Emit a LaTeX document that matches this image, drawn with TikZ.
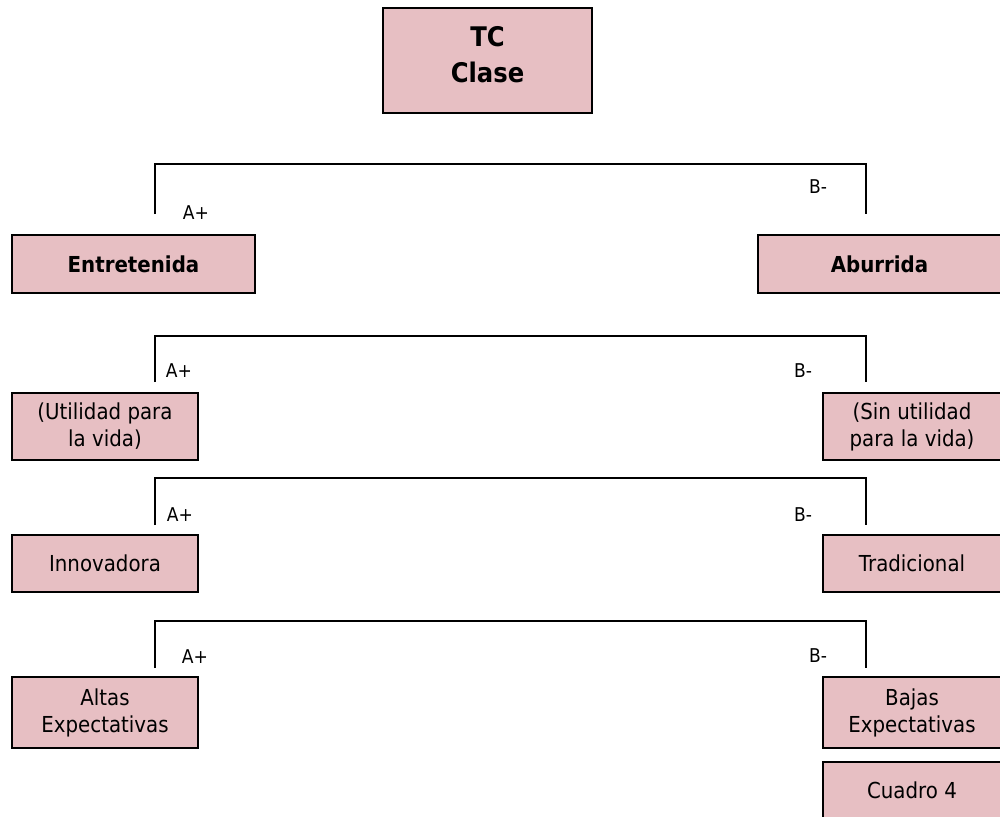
\documentclass[tikz,border=0pt]{standalone}
\usepackage{fontspec}
\setmainfont[FakeStretch=0.9]{DejaVu Sans}
\definecolor{pinkbox}{HTML}{E7BFC3}
\begin{document}
\begin{tikzpicture}[x=1pt,y=-1pt,
  box/.style={draw=black, line width=1.6pt, fill=pinkbox, inner sep=0pt, align=center,
              font=\fontsize{22}{27}\selectfont},
  conn/.style={line width=1.3pt, draw=black},
  lbl/.style={font=\fontsize{19}{22}\selectfont, inner sep=0pt}]
\useasboundingbox (0,0) rectangle (1000,816);
\clip (0,0) rectangle (1000,816);

% boxes
\node[box, minimum width=209pt, minimum height=105pt] (tc) at (487.5,60.5) {};
\node[align=center, inner sep=0pt, font=\bfseries\fontsize{27}{36}\selectfont]
  (tct) at (487.5,55) {TC\\Clase};
\node[box, minimum width=243pt, minimum height=58pt, font=\bfseries\fontsize{22}{27}\selectfont]
  (ent) at (133.5,264) {Entretenida};
\node[box, minimum width=243pt, minimum height=58pt, font=\bfseries\fontsize{22}{27}\selectfont]
  (abu) at (879.5,264) {Aburrida};
\node[box, minimum width=186pt, minimum height=67pt] (uti) at (105,426.5) {(Utilidad para\\la vida)};
\node[box, minimum width=178pt, minimum height=67pt] (sin) at (912,426.5) {(Sin utilidad\\para la vida)};
\node[box, minimum width=186pt, minimum height=57pt] (inn) at (105,563.5) {Innovadora};
\node[box, minimum width=178pt, minimum height=57pt] (tra) at (912,563.5) {Tradicional};
\node[box, minimum width=186pt, minimum height=71pt] (alt) at (105,712.5) {Altas\\Expectativas};
\node[box, minimum width=178pt, minimum height=71pt] (baj) at (912,712.5) {Bajas\\Expectativas};
\node[box, minimum width=178pt, minimum height=56pt] (cua) at (912,790) {Cuadro 4};

% bracket coordinates
\coordinate (b1l) at (155,214); \coordinate (b1tl) at (155,164);
\coordinate (b1tr) at (866,164); \coordinate (b1r) at (866,214);
\coordinate (b2l) at (155,382); \coordinate (b2tl) at (155,336);
\coordinate (b2tr) at (866,336); \coordinate (b2r) at (866,382);
\coordinate (b3l) at (155,525); \coordinate (b3tl) at (155,478);
\coordinate (b3tr) at (866,478); \coordinate (b3r) at (866,525);
\coordinate (b4l) at (155,668); \coordinate (b4tl) at (155,621);
\coordinate (b4tr) at (866,621); \coordinate (b4r) at (866,668);

\draw[conn] (b1l) -- (b1tl) -- (b1tr) -- (b1r);
\draw[conn] (b2l) -- (b2tl) -- (b2tr) -- (b2r);
\draw[conn] (b3l) -- (b3tl) -- (b3tr) -- (b3r);
\draw[conn] (b4l) -- (b4tl) -- (b4tr) -- (b4r);

% labels
\node[lbl] (a1) at (196,213) {A+};
\node[lbl] (m1) at (818,187) {B-};
\node[lbl] (a2) at (179,371) {A+};
\node[lbl] (m2) at (803,371) {B-};
\node[lbl] (a3) at (180,515) {A+};
\node[lbl] (m3) at (803,515) {B-};
\node[lbl] (a4) at (195,657) {A+};
\node[lbl] (m4) at (818,656) {B-};
\end{tikzpicture}
\end{document}
